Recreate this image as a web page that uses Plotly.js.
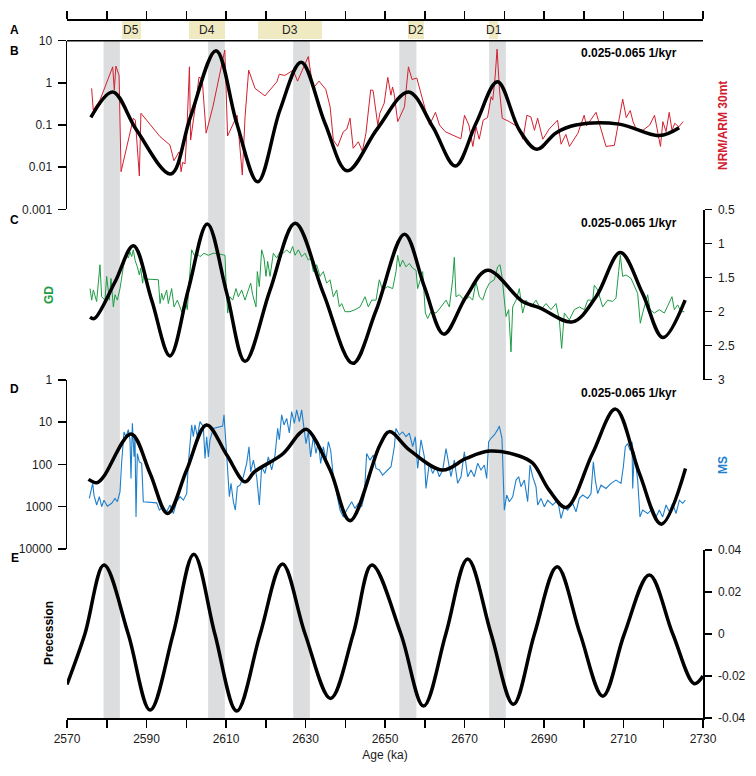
<!DOCTYPE html>
<html><head><meta charset="utf-8">
<script src="https://cdn.plot.ly/plotly-3.0.1.min.js"></script>
<style>html,body{margin:0;padding:0;background:#fff}#chart{width:756px;height:776px}</style>
</head><body><div id="chart"></div>
<script>
// ---------- DATA ----------
const grayStart = [2579.2, 2605.5, 2626.9, 2653.6, 2676.2];
const grayEnd   = [2583.3, 2609.7, 2631.1, 2657.9, 2680.4];

const dLabels = ['D5','D4','D3','D2','D1'];
const dStart  = [2583.8, 2600.7, 2618.1, 2655.9, 2676.2];
const dEnd    = [2588.5, 2609.7, 2634.1, 2659.8, 2678.4];

const nrmAge = [2576.2,2576.6,2578.3,2581.5,2581.9,2582.3,2583.1,2583.6,2586.7,2587.2,
2588.2,2588.6,2593.4,2595.9,2596.9,2598.2,2598.7,2599.1,2599.7,2600.1,
2600.8,2601.1,2602.5,2603.2,2604.0,2605.0,2606.7,2609.7,2610.4,2612.8,
2614.1,2614.8,2615.7,2617.3,2619.8,2622.8,2623.4,2624.8,2626.9,2628.0,
2630.7,2631.9,2633.4,2635.1,2636.2,2637.0,2638.1,2639.5,2640.4,2641.2,
2642.0,2643.3,2644.3,2645.2,2646.4,2647.0,2648.2,2648.7,2649.8,2650.7,
2651.5,2651.9,2652.3,2653.2,2654.9,2655.9,2656.8,2658.0,2659.5,2661.2,
2662.7,2663.7,2665.2,2667.9,2669.1,2670.0,2671.1,2672.1,2672.9,2673.7,
2674.7,2675.8,2676.7,2677.1,2677.7,2678.2,2678.8,2679.5,2681.3,2683.4,
2684.7,2685.7,2686.7,2687.6,2688.4,2689.7,2691.3,2693.4,2694.3,2695.5,
2696.4,2698.5,2700.1,2700.7,2703.1,2703.9,2705.6,2707.7,2709.8,2710.7,
2711.7,2712.4,2713.2,2714.9,2716.6,2717.8,2718.5,2719.3,2719.9,2720.7,
2721.5,2722.2,2722.9,2723.9,2725.0];
const nrmVal = [0.74,0.227,0.39,2.4,0.68,2.5,1.5,0.0078,0.145,0.13,
0.0062,0.19,0.053,0.0335,0.0142,0.023,0.0078,0.013,0.012,0.053,
2.4,0.044,0.39,1.36,1.25,0.064,0.27,6.0,0.055,0.17,
0.0065,0.16,2.0,0.74,0.49,1.06,1.6,1.5,2.0,1.1,
4.2,0.74,1.1,0.7,0.27,0.044,0.031,0.069,0.08,0.145,
0.028,0.04,0.024,0.063,0.68,0.66,0.098,0.19,0.33,1.35,
0.51,0.8,0.55,0.12,0.27,2.4,1.2,1.3,0.39,0.1,
0.2,0.1,0.069,0.053,0.047,0.17,0.1,0.031,0.09,0.046,
0.13,0.15,0.47,0.39,1.4,6.3,0.68,0.145,0.12,0.09,
0.046,0.17,0.155,0.075,0.145,0.046,0.08,0.13,0.035,0.06,
0.031,0.063,0.17,0.095,0.2,0.11,0.031,0.033,0.41,0.15,
0.22,0.12,0.08,0.075,0.1,0.17,0.07,0.031,0.12,0.07,
0.2,0.075,0.11,0.09,0.12];

const nrmFiltAge = [2576.0,2581.5,2587.5,2596.1,2601.0,2607.5,2612.7,2618.0,2623.6,2628.9,2634.9,2640.5,2648.0,2655.9,2662.0,2667.7,2672.9,2678.3,2683.8,2688.2,2693.0,2698.0,2708.9,2719.0,2724.0];
const nrmFiltVal = [0.152,0.61,0.076,0.0069,0.15,5.8,0.11,0.0045,0.23,3.1,0.11,0.0082,0.08,0.61,0.091,0.0107,0.11,1.06,0.076,0.0265,0.065,0.1,0.105,0.056,0.086];

const gdAge = [2575.79,2576.21,2576.63,2577.46,2577.88,2578.30,2578.72,2579.56,2579.98,2580.65,
2581.07,2581.66,2582.08,2582.66,2583.33,2583.75,2584.17,2584.84,2585.43,2585.85,
2586.27,2586.69,2587.11,2587.69,2588.20,2588.53,2589.04,2589.37,2590.04,2592.98,
2593.40,2593.82,2594.23,2595.07,2595.49,2596.33,2596.92,2597.76,2598.85,2599.69,
2600.27,2600.78,2601.36,2602.03,2602.62,2603.46,2604.47,2605.56,2606.81,2608.07,
2609.75,2610.00,2610.42,2611.01,2611.68,2612.51,2613.10,2613.94,2614.78,2615.62,
2616.21,2616.71,2617.55,2617.88,2618.39,2618.97,2619.56,2620.06,2620.48,2621.07,
2621.91,2622.75,2623.58,2624.42,2625.26,2626.10,2626.77,2627.36,2628.20,2629.04,
2629.88,2630.71,2631.30,2631.98,2632.81,2633.65,2634.49,2635.32,2636.16,2637.00,
2637.84,2638.51,2639.10,2639.94,2641.20,2642.45,2643.71,2644.97,2645.81,2646.65,
2647.74,2648.57,2649.41,2650.67,2651.93,2652.77,2653.19,2653.77,2654.44,2655.28,
2656.12,2656.96,2657.80,2658.22,2659.48,2660.15,2660.73,2661.57,2662.83,2664.09,
2665.35,2666.19,2667.02,2667.44,2667.86,2668.70,2669.96,2671.22,2672.05,2672.89,
2673.73,2674.57,2675.41,2676.25,2677.51,2678.34,2678.93,2679.43,2680.02,2680.44,
2681.11,2681.70,2682.12,2682.96,2683.79,2684.63,2685.47,2686.73,2687.99,2689.24,
2690.51,2691.76,2693.02,2693.86,2694.44,2695.11,2696.37,2697.63,2698.89,2700.15,
2700.99,2702.24,2702.66,2703.50,2704.76,2706.02,2707.27,2708.11,2708.78,2709.20,
2709.79,2710.63,2711.89,2712.73,2713.56,2714.23,2714.82,2716.08,2716.67,2717.76,
2719.02,2720.27,2721.36,2722.20,2722.79,2723.63,2724.47,2725.30];
const gdVal = [1.66,1.83,1.68,1.85,1.58,1.31,1.78,1.83,1.48,1.83,
1.51,1.93,1.75,1.83,1.66,1.51,1.34,1.17,1.21,1.12,
1.19,1.09,1.24,1.34,1.46,1.36,1.58,1.41,1.52,1.53,
1.88,1.73,1.83,1.68,1.88,1.66,1.93,1.83,2.0,1.83,
1.97,1.53,1.09,1.17,1.14,1.19,1.14,1.17,1.14,1.15,
1.17,1.58,2.02,1.78,1.83,1.66,1.78,1.68,1.83,1.68,
1.58,1.75,1.93,1.41,1.63,1.09,1.21,1.48,1.26,1.48,
1.14,1.21,1.12,1.14,1.09,1.14,1.04,1.17,1.09,1.19,
1.14,1.24,1.21,1.41,1.31,1.48,1.41,1.58,1.53,1.78,
1.68,1.93,1.88,2.0,2.0,1.97,1.93,1.78,1.93,1.83,
1.83,1.53,1.68,1.63,1.66,1.41,1.17,1.34,1.24,1.34,
1.29,1.36,1.39,1.66,1.41,2.02,2.1,2.0,2.02,1.93,
1.83,1.93,1.53,1.2,1.78,1.75,1.83,1.78,1.83,1.56,
1.78,1.83,1.68,1.58,1.53,1.34,1.31,1.48,1.83,2.07,
1.97,2.59,1.93,1.83,1.66,2.02,1.83,1.93,1.83,1.97,
1.88,1.97,1.88,2.12,2.54,2.02,2.12,1.97,1.93,1.97,
1.83,1.83,1.61,1.68,1.93,1.83,1.85,1.80,1.41,1.17,
1.48,1.46,1.51,1.63,1.73,2.17,2.02,1.75,1.97,2.02,
1.97,2.02,1.88,1.78,1.97,1.90,2.0,2.0];

const gdFiltAge = [2575.8,2576.9,2582.1,2586.7,2591.3,2595.9,2600.5,2605.3,2610.2,2614.8,2621.1,2627.4,2634.5,2641.9,2647.7,2654.9,2659.9,2664.8,2670.4,2675.8,2684.6,2688.8,2697.2,2703.1,2709.2,2714.8,2719.9,2725.5];
const gdFiltVal = [2.08,2.1,1.56,1.03,1.83,2.65,1.68,0.71,1.73,2.73,1.68,0.70,1.73,2.76,1.99,0.86,1.63,2.33,1.78,1.39,1.85,1.94,2.15,1.78,1.13,1.73,2.38,1.83];

const msAge = [2575.62,2575.95,2576.46,2576.79,2577.46,2578.14,2578.72,2579.31,2580.15,2581.24,
2582.08,2582.66,2583.33,2583.75,2584.34,2584.84,2585.43,2585.85,2586.10,2586.44,
2586.86,2587.11,2587.36,2587.69,2588.20,2588.79,2589.20,2592.56,2593.23,2594.23,
2595.07,2595.91,2596.75,2597.59,2598.43,2599.27,2600.11,2600.53,2600.94,2601.36,
2601.78,2602.20,2602.79,2603.46,2604.30,2604.72,2605.14,2605.56,2605.98,2606.81,
2609.16,2609.50,2610.17,2610.84,2611.26,2611.85,2612.35,2612.85,2613.52,2614.36,
2615.20,2615.79,2616.21,2616.88,2617.72,2618.39,2618.97,2619.81,2620.65,2621.49,
2622.33,2623.00,2623.42,2624.00,2624.59,2625.26,2625.93,2626.52,2627.19,2627.78,
2628.45,2629.04,2629.62,2630.13,2630.71,2631.30,2631.98,2632.64,2633.23,2633.82,
2634.49,2635.16,2635.75,2636.33,2637.00,2637.84,2638.68,2639.52,2640.36,2641.61,
2642.45,2643.29,2644.13,2644.80,2645.39,2646.23,2647.06,
2647.74,2648.57,2649.41,2650.67,2651.51,2652.35,2652.77,2653.61,2654.44,2655.28,
2656.12,2656.96,2657.63,2658.22,2659.06,2659.90,2660.31,2661.15,2661.99,2662.83,
2663.67,2664.51,2665.35,2666.02,2666.60,2667.44,2668.28,2669.12,2669.96,2670.80,
2671.64,2672.47,2673.31,2674.15,2674.99,2675.58,2676.08,2676.67,2677.51,2678.34,
2678.76,2679.43,2679.85,2680.02,2680.61,2681.28,2682.12,2682.96,2683.63,2684.21,
2685.05,2685.89,2686.48,2687.15,2687.99,2688.41,2689.24,2690.08,2690.92,2692.18,
2693.44,2694.28,2695.11,2695.95,2697.21,2698.05,2698.89,2699.73,2700.99,2701.82,
2702.41,2702.91,2703.50,2704.34,2705.60,2706.85,2708.11,2709.37,2709.96,2710.46,
2711.05,2711.64,2712.14,2712.31,2712.73,2713.56,2714.15,2714.82,2716.08,2717.34,
2718.18,2719.02,2719.86,2720.70,2721.53,2722.37,2723.21,2724.05,2724.89,2725.56];
const msVal = [635,445,280,530,910,580,1000,700,970,830,
635,760,445,87,17,22,15,26,214,10.6,
66,22,1740,55,87,94,760,810,1200,1000,
1320,910,1450,760,580,700,490,94,32,11.6,
22,11.6,22,9.7,12.8,72,22,66,26,14,
12.3,6.7,60,580,280,760,1200,336,309,195,
94,38,149,79,195,910,113,163,66,135,
60,14,26,6.7,11.6,8.1,18,5.6,10.6,5.1,
9.7,5.1,14,32,17,66,22,55,29,94,
38,79,29,46,195,490,1200,1740,1200,760,
1100,830,1000,530,55,79,60,
124,135,178,135,113,38,14,20,17,22,
18,38,22,124,26,66,370,94,163,113,
195,135,42,94,195,79,280,195,50,195,
135,195,94,135,103,214,29,24,20,15,
12.3,24,580,1200,530,760,580,234,195,336,
234,760,103,195,336,910,635,1000,700,910,
700,1900,1000,1200,830,1320,635,530,635,490,
87,234,490,309,370,280,234,280,113,38,
32,46,29,370,50,234,1740,1200,1450,1100,
1740,1200,1740,910,1320,830,1450,700,830,700];

const msFiltAge = [2575.4,2577.5,2579.2,2586.1,2590.9,2595.3,2600.1,2605.1,2610.2,2614.8,2617.2,2624.4,2628.5,2630.3,2636.2,2641.2,2648.7,2651.1,2656.1,2664.5,2670.4,2676.3,2683.8,2687.2,2691.3,2695.6,2702.2,2708.0,2714.0,2719.5,2725.6];
const msFiltVal = [225,270,195,19,163,1450,135,11.6,60,257,148,55,18.4,14.8,135,2150,35,16.7,45,136,72,48,63,94,405,1040,55,4.9,163,2580,124];

const precAge = [2570,2574.5,2579.3,2585.4,2590.9,2596.7,2601.9,2607.2,2612.7,2618.6,2624.2,2629.9,2636.3,2642.0,2646.7,2654.0,2659.7,2665.3,2670.8,2676.7,2682.3,2687.6,2693.3,2699.1,2704.8,2710.2,2716.5,2722.4,2727.8,2730];
const precVal = [-0.024,0,0.0328,0,-0.0362,0,0.038,0,-0.0367,0,0.0333,0,-0.0307,0,0.0328,0,-0.0343,0,0.0357,0,-0.0335,0,0.032,0,-0.0296,0,0.0281,0,-0.0237,-0.020];

const xTickVals = [2570,2580,2590,2600,2610,2620,2630,2640,2650,2660,2670,2680,2690,2700,2710,2720,2730];
const xTickText = ['2570','','2590','','2610','','2630','','2650','','2670','','2690','','2710','','2730'];
const bTicks = [0.001,0.01,0.1,1,10];
const bTickText = ['0.001','0.01','0.1','1','10'];
const cTicks = [0.5,1,1.5,2,2.5,3];
const cTickText = ['0.5','1','1.5','2','2.5','3'];
const dTicks = [1,10,100,1000,10000];
const dTickText = ['1','10','100','1000','10000'];
const eTicks = [-0.04,-0.02,0,0.02,0.04];
const eTickText = ['-0.04','-0.02','0','0.02','0.04'];
const bandText = '0.025-0.065 1/kyr';

// ---------- STYLE ----------
const FONT = '"Liberation Sans", Arial, sans-serif';
const RED = '#d2202f', GREEN = '#1e9c45', BLUE = '#1f7fcb';
const BLACKW = 3.5;

const traces = [
  {type:'bar', x: dStart.map((s,i)=>(s+dEnd[i])/2), y: dStart.map(()=>1), width: dStart.map((s,i)=>dEnd[i]-s),
   base: 0, xaxis:'x2', yaxis:'y5', marker:{color:'#efeac1', line:{width:0}}, hoverinfo:'skip'},
  {type:'scatter', mode:'lines', x:nrmAge, y:nrmVal, xaxis:'x', yaxis:'y', line:{color:RED, width:1}},
  {type:'scatter', mode:'lines', x:nrmFiltAge, y:nrmFiltVal, xaxis:'x', yaxis:'y', line:{color:'#000', width:BLACKW, shape:'spline', smoothing:1}},
  {type:'scatter', mode:'lines', x:gdAge, y:gdVal, xaxis:'x', yaxis:'y2', line:{color:GREEN, width:1}},
  {type:'scatter', mode:'lines', x:gdFiltAge, y:gdFiltVal, xaxis:'x', yaxis:'y2', line:{color:'#000', width:BLACKW, shape:'spline', smoothing:1}},
  {type:'scatter', mode:'lines', x:msAge, y:msVal, xaxis:'x', yaxis:'y3', line:{color:BLUE, width:1.1}},
  {type:'scatter', mode:'lines', x:msFiltAge, y:msFiltVal, xaxis:'x', yaxis:'y3', line:{color:'#000', width:BLACKW, shape:'spline', smoothing:1}},
  {type:'scatter', mode:'lines', x:precAge, y:precVal, xaxis:'x', yaxis:'y4', line:{color:'#000', width:BLACKW, shape:'spline', smoothing:1}}
];

const axisCommon = {showgrid:false, zeroline:false, showline:true, linecolor:'#000', linewidth:1.5,
  ticks:'outside', ticklen:8, tickwidth:1.5, tickcolor:'#000', tickfont:{family:FONT, size:12, color:'#1a1a1a'}, fixedrange:true};

const shapes = grayStart.map((s,i)=>({type:'rect', xref:'x', yref:'paper', x0:s, x1:grayEnd[i], y0:0, y1:0.9433,
  fillcolor:'#dcdddf', line:{width:0}, layer:'below'}));
shapes.push({type:'line', xref:'paper', yref:'paper', x0:0, x1:1, y0:0.9433, y1:0.9433, line:{color:'#000', width:1.5}});

const ann = (text, x, y, opts={}) => Object.assign({text, x, y, xref:'paper', yref:'paper', showarrow:false,
  xanchor:'center', yanchor:'middle', font:{family:FONT, size:12, color:'#000'}}, opts);

const annotations = [
  ann('<b>A</b>', -0.0818, 0.9582), ann('<b>B</b>', -0.0818, 0.929), ann('<b>C</b>', -0.0818, 0.6936),
  ann('<b>D</b>', -0.0818, 0.4582), ann('<b>E</b>', -0.0818, 0.2228),
  ann('<b>'+bandText+'</b>', 0.9623, 0.9262, {xanchor:'right'}),
  ann('<b>'+bandText+'</b>', 0.9623, 0.6894, {xanchor:'right'}),
  ann('<b>'+bandText+'</b>', 0.9623, 0.4526, {xanchor:'right'}),
  ann('<b>NRM/ARM 30mt</b>', 1.0314, 0.8259, {textangle:-90, font:{family:FONT, size:12, color:RED}}),
  ann('<b>GD</b>', -0.0283, 0.5891, {textangle:-90, font:{family:FONT, size:12, color:GREEN}}),
  ann('<b>MS</b>', 1.0314, 0.3524, {textangle:-90, font:{family:FONT, size:12, color:BLUE}}),
  ann('<b>Precession</b>', -0.0283, 0.1184, {textangle:-90})
];
dLabels.forEach((t,i)=>annotations.push({text:t, x:(dStart[i]+dEnd[i])/2, xref:'x', y:0.9582, yref:'paper', showarrow:false,
  xanchor:'center', yanchor:'middle', font:{family:FONT, size:12, color:'#222'}}));

const layout = {
  width:756, height:776, margin:{l:67, r:53, t:0, b:58},
  paper_bgcolor:'#fff', plot_bgcolor:'rgba(0,0,0,0)', showlegend:false, bargap:0,
  font:{family:FONT, size:12, color:'#1a1a1a'},
  xaxis: Object.assign({}, axisCommon, {range:[2570,2730], anchor:'y4', tickmode:'array', tickvals:xTickVals, ticktext:xTickText,
    ticklabelstandoff:1, title:{text:'Age (ka)', standoff:5, font:{family:FONT, size:12, color:'#1a1a1a'}}}),
  xaxis2: Object.assign({}, axisCommon, {range:[2570,2730], anchor:'free', position:0.9735, side:'top', tickmode:'array', tickvals:xTickVals, showticklabels:false}),
  yaxis5: {domain:[0.9453,0.9721], range:[0,1], anchor:'x2', visible:false, fixedrange:true},
  yaxis: Object.assign({}, axisCommon, {domain:[0.7085,0.9433], type:'log', range:[-3,1], anchor:'x', side:'left', tickmode:'array', tickvals:bTicks, ticktext:bTickText, ticklabelstandoff:3}),
  yaxis2: Object.assign({}, axisCommon, {domain:[0.4712,0.7079], range:[3,0.5], anchor:'x', side:'right', tickmode:'array', tickvals:cTicks, ticktext:cTickText, ticklen:7, ticklabelstandoff:4}),
  yaxis3: Object.assign({}, axisCommon, {domain:[0.2354,0.4708], type:'log', range:[4,0], anchor:'x', side:'left', tickmode:'array', tickvals:dTicks, ticktext:dTickText, ticklabelstandoff:3}),
  yaxis4: Object.assign({}, axisCommon, {domain:[0,0.234], range:[-0.04,0.04], anchor:'x', side:'right', tickmode:'array', tickvals:eTicks, ticktext:eTickText, ticklen:7, ticklabelstandoff:4}),
  shapes, annotations
};

Plotly.newPlot('chart', traces, layout, {displayModeBar:false, staticPlot:true});
</script>
</body></html>
